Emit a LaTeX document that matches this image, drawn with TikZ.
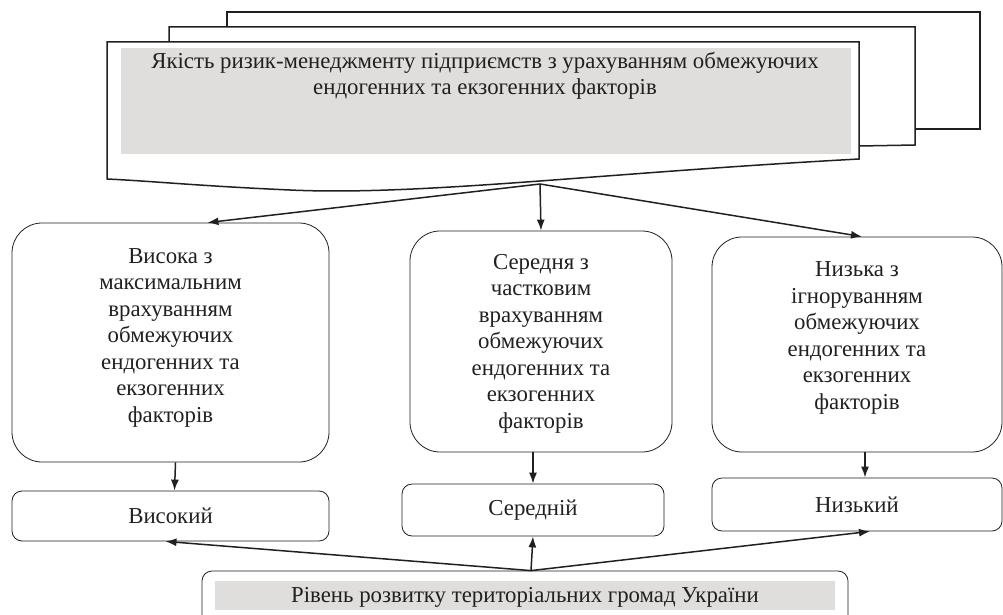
\documentclass[tikz,border=0pt]{standalone}
\usepackage{fontspec}
\setmainfont{Liberation Serif}
\usetikzlibrary{arrows.meta,calc}
\definecolor{lgray}{HTML}{DFDEDD}
\definecolor{ink}{HTML}{231F20}
\begin{document}
\begin{tikzpicture}[x=1pt,y=-1pt,
  sheet/.style={draw=ink,line width=1.5pt,line join=miter},
  txt/.style={font=\fontsize{22.8}{26.5}\selectfont,text=ink,align=center,inner sep=0pt},
  bigbox/.style={draw=ink,line width=0.8pt,rounded corners=30pt},
  lowbox/.style={draw=ink,line width=0.8pt,rounded corners=10pt,txt},
  arr/.style={draw=ink,line width=1.5pt,-{Latex[length=11pt,width=8pt]}}]
\useasboundingbox (0,0) rectangle (1003,615);
\clip (0,0) rectangle (1003,615);
% multi-document shape
\draw[sheet] (227,27) -- (227,12) -- (980,12) -- (980,129) -- (915,129);
\draw[sheet] (169,42) -- (169,27) -- (915,27) -- (915,145) -- (859,146);
\draw[sheet,fill=white] (107,42) -- (859,42) -- (859,159)
  .. controls (600,173) and (420,196) .. (290,190)
  .. controls (200,186) and (150,181) .. (107,179) -- cycle;
\fill[lgray] (121,48) rectangle (851,154);
\node[txt] (doc) at (485,76) {Якість ризик-менеджменту підприємств з урахуванням обмежуючих\\ендогенних та екзогенних факторів};
\coordinate (src) at (540,184);
% big boxes
\node[bigbox,minimum width=317pt,minimum height=239pt] (b1) at (170.5,342.5) {};
\node[txt] (b1t) at (170.5,337.5) {Висока з\\максимальним\\врахуванням\\обмежуючих\\ендогенних та\\екзогенних\\факторів};
\node[bigbox,minimum width=262pt,minimum height=221pt] (b2) at (541,341.5) {};
\node[txt] (b2t) at (541,343.5) {Середня з\\частковим\\врахуванням\\обмежуючих\\ендогенних та\\екзогенних\\факторів};
\node[bigbox,minimum width=290pt,minimum height=215pt] (b3) at (857,344.5) {};
\node[txt] (b3t) at (857,338) {Низька з\\ігноруванням\\обмежуючих\\ендогенних та\\екзогенних\\факторів};
% low boxes
\node[lowbox,minimum width=317pt,minimum height=50pt] (l1) at (170.5,516) {Високий};
\node[lowbox,minimum width=262pt,minimum height=52pt] (l2) at (533,510) {Середній};
\node[lowbox,minimum width=290pt,minimum height=53pt] (l3) at (857,504.5) {Низький};
\node[lowbox,minimum width=646pt,minimum height=54pt] (r) at (525,598) {};
\fill[lgray] (215,581) rectangle (835,610);
\node[txt] (rt) at (525,597) {Рівень розвитку територіальних громад України};
% arrows
\draw[arr] (src) -- ([xshift=37pt]b1.north);
\draw[arr] (src) -- (b2.north);
\draw[arr] (src) -- ([xshift=5pt]b3.north);
\draw[arr] ([xshift=5pt]b1.south) -- ([xshift=4pt]l1.north);
\draw[arr] ([xshift=-8pt]b2.south) -- (l2.north);
\draw[arr] ([xshift=8pt]b3.south) -- ([xshift=8pt]l3.north);
\draw[arr] ([xshift=6pt]r.north) -- ([xshift=-5pt]l1.south);
\draw[arr] ([xshift=6pt]r.north) -- (l2.south);
\draw[arr] ([xshift=6pt]r.north) -- ([xshift=13pt]l3.south);
\end{tikzpicture}
\end{document}
